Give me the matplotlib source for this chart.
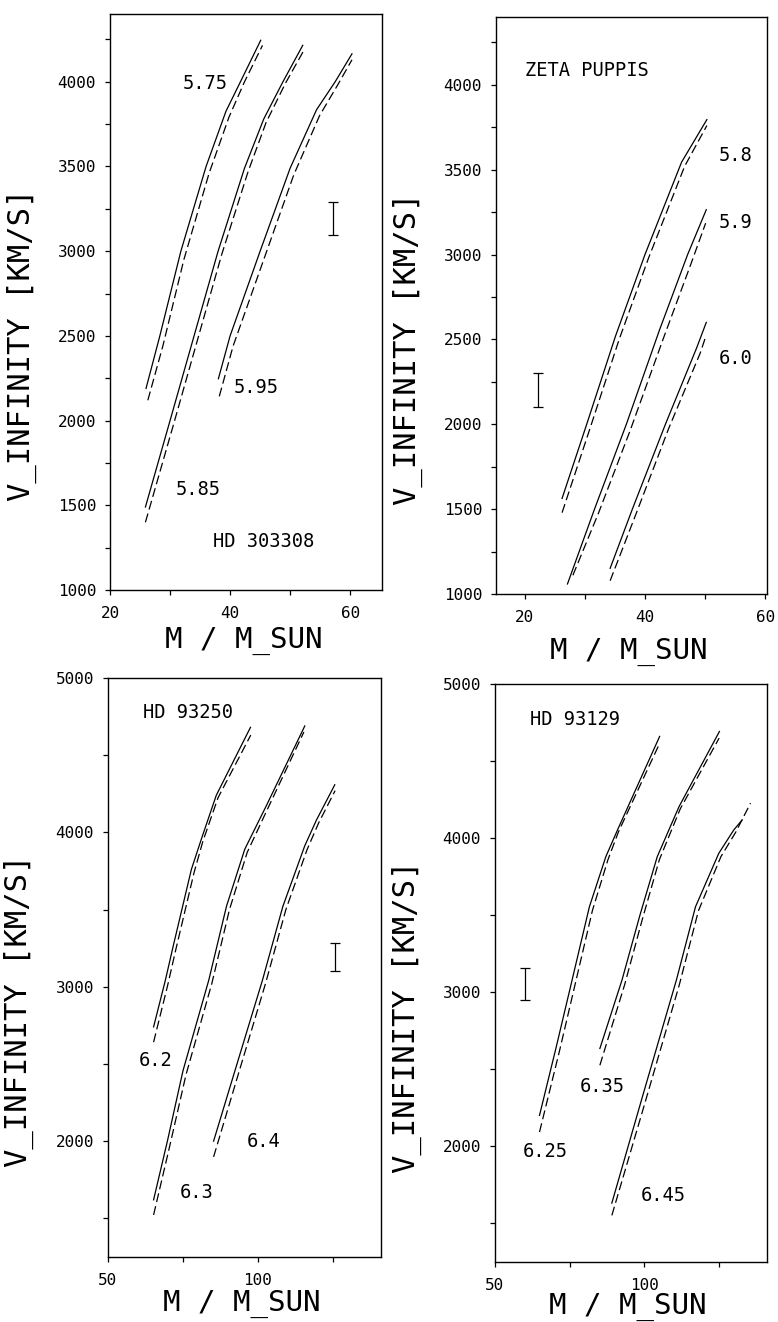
import matplotlib
matplotlib.use("Agg")
import matplotlib.pyplot as plt

plt.rcParams['font.family'] = ['DejaVu Sans Mono', 'DejaVu Sans']
plt.rcParams['lines.scale_dashes'] = False

# ---------------- Panel 1 : HD 303308 ----------------
p1_575_solid_m = [26.0, 28.3, 31.8, 36.0, 39.3, 42.0, 45.1]
p1_575_solid_v = [2190, 2500, 3000, 3500, 3825, 4020, 4245]
p1_575_dash_m = [26.3, 28.8, 32.3, 36.5, 39.8, 42.4, 45.4]
p1_575_dash_v = [2120, 2440, 2950, 3460, 3790, 4000, 4215]

p1_585_solid_m = [25.9, 30.0, 34.0, 38.0, 42.4, 45.6, 48.8, 52.1]
p1_585_solid_v = [1490, 2000, 2500, 3000, 3490, 3780, 4000, 4215]
p1_585_dash_m = [25.9, 30.6, 34.6, 38.6, 43.0, 46.0, 49.2, 52.2]
p1_585_dash_v = [1400, 1980, 2480, 2980, 3470, 3760, 3990, 4180]

p1_595_solid_m = [38.05, 40.0, 45.0, 50.0, 54.4, 57.5, 60.3]
p1_595_solid_v = [2247, 2500, 3000, 3490, 3835, 4000, 4165]
p1_595_dash_m = [38.2, 40.5, 45.6, 50.6, 54.9, 57.9, 60.3]
p1_595_dash_v = [2143, 2440, 2950, 3450, 3800, 3980, 4130]

p1_labels = ["5.75", "5.85", "5.95"]
p1_label_m = [35.8, 34.7, 44.4]
p1_label_v = [3988, 1593, 2194]
p1_name = "HD 303308"
p1_name_pos = (37.2, 1285)
p1_err_m, p1_err_lo, p1_err_hi = 57.1, 3095, 3293

# ---------------- Panel 2 : ZETA PUPPIS ----------------
p2_58_solid_m = [26.2, 30.3, 35.1, 40.0, 46.1, 50.3]
p2_58_solid_v = [1563, 2000, 2520, 3000, 3545, 3795]
p2_58_dash_m = [26.2, 30.8, 35.7, 40.6, 46.6, 50.3]
p2_58_dash_v = [1479, 1970, 2500, 2980, 3520, 3760]

p2_59_solid_m = [27.1, 31.6, 36.9, 42.4, 47.1, 50.2]
p2_59_solid_v = [1059, 1500, 2000, 2554, 3000, 3264]
p2_59_dash_m = [28.0, 32.3, 37.5, 43.0, 47.6, 50.1]
p2_59_dash_v = [1110, 1480, 1960, 2500, 2940, 3185]

p2_60_solid_m = [34.2, 37.9, 43.4, 48.6, 50.2]
p2_60_solid_v = [1151, 1500, 2000, 2450, 2600]
p2_60_dash_m = [34.2, 38.6, 44.0, 49.2, 50.0]
p2_60_dash_v = [1078, 1480, 1980, 2420, 2505]

p2_labels = ["5.8", "5.9", "6.0"]
p2_label_m = [55.1, 55.1, 55.1]
p2_label_v = [3584, 3191, 2387]
p2_name = "ZETA PUPPIS"
p2_name_pos = (20.0, 4084)
p2_err_m, p2_err_lo, p2_err_hi = 22.2, 2099, 2302

# ---------------- Panel 3 : HD 93250 ----------------
p3_62_solid_m = [65.2, 69.1, 71.7, 77.8, 81.1, 86.1, 97.5]
p3_62_solid_v = [2740, 3040, 3260, 3760, 3955, 4240, 4680]
p3_62_dash_m = [65.2, 69.9, 72.6, 78.7, 81.6, 86.7, 97.6]
p3_62_dash_v = [2641, 3010, 3240, 3740, 3940, 4225, 4630]

p3_63_solid_m = [65.2, 69.8, 75.0, 83.6, 89.5, 95.6, 102.8, 115.6]
p3_63_solid_v = [1620, 2000, 2456, 3043, 3521, 3891, 4173, 4689]
p3_63_dash_m = [65.2, 70.6, 76.0, 84.6, 90.5, 96.4, 103.4, 115.3]
p3_63_dash_v = [1522, 1970, 2430, 3020, 3500, 3870, 4160, 4650]

p3_64_solid_m = [85.2, 93.0, 101.5, 108.3, 115.6, 119.5, 125.6]
p3_64_solid_v = [2000, 2500, 3043, 3521, 3913, 4080, 4308]
p3_64_dash_m = [85.2, 94.0, 102.5, 109.3, 116.4, 120.2, 125.7]
p3_64_dash_v = [1898, 2470, 3020, 3500, 3890, 4060, 4270]

p3_labels = ["6.2", "6.3", "6.4"]
p3_label_m = [65.8, 79.5, 101.9]
p3_label_v = [2521, 1667, 2000]
p3_name = "HD 93250"
p3_name_pos = (61.7, 4776)
p3_err_m, p3_err_lo, p3_err_hi = 125.6, 3100, 3285

# ---------------- Panel 4 : HD 93129 ----------------
p4_625_solid_m = [64.9, 70.5, 75.8, 81.6, 87.1, 91.0, 105.1]
p4_625_solid_v = [2201, 2645, 3079, 3555, 3880, 4053, 4660]
p4_625_dash_m = [64.9, 71.6, 76.8, 82.6, 87.8, 91.3, 105.1]
p4_625_dash_v = [2093, 2620, 3050, 3530, 3860, 4040, 4615]

p4_635_solid_m = [85.1, 92.5, 98.5, 104.3, 111.6, 125.1]
p4_635_solid_v = [2635, 3079, 3500, 3880, 4205, 4692]
p4_635_dash_m = [85.1, 93.4, 99.4, 105.0, 112.0, 125.0]
p4_635_dash_v = [2526, 3050, 3480, 3860, 4190, 4649]

p4_645_solid_m = [89.1, 99.3, 110.7, 117.1, 124.9, 129.9, 132.7]
p4_645_solid_v = [1632, 2320, 3079, 3555, 3902, 4053, 4118]
p4_645_dash_m = [89.1, 100.3, 111.7, 118.1, 125.6, 130.6, 135.5]
p4_645_dash_v = [1552, 2290, 3050, 3530, 3880, 4040, 4227]

p4_labels = ["6.25", "6.35", "6.45"]
p4_label_m = [66.9, 86.0, 106.2]
p4_label_v = [1969, 2390, 1682]
p4_name = "HD 93129"
p4_name_pos = (61.6, 4768)
p4_err_m, p4_err_lo, p4_err_hi = 59.9, 2953, 3155

x_title = "M / M_SUN"
y_title = "V_INFINITY [KM/S]"

# ---------------- layout ----------------
panels = [
    dict(rect=[0.1414, 0.5537, 0.3496, 0.4357], xlim=(20, 65.3), ylim=(1000, 4400),
         xmaj=[20, 40, 60], xmin=[30, 50],
         ymaj=[1000, 1500, 2000, 2500, 3000, 3500, 4000],
         ymin=[1250, 1750, 2250, 2750, 3250, 3750, 4250],
         curves=[(p1_575_solid_m, p1_575_solid_v, p1_575_dash_m, p1_575_dash_v),
                 (p1_585_solid_m, p1_585_solid_v, p1_585_dash_m, p1_585_dash_v),
                 (p1_595_solid_m, p1_595_solid_v, p1_595_dash_m, p1_595_dash_v)],
         labels=(p1_labels, p1_label_m, p1_label_v), name=(p1_name, p1_name_pos),
         err=(p1_err_m, p1_err_lo, p1_err_hi), xlab_y=-0.100),
    dict(rect=[0.6375, 0.5507, 0.3483, 0.4365], xlim=(15.2, 60.3), ylim=(1000, 4400),
         xmaj=[20, 40, 60], xmin=[30, 50],
         ymaj=[1000, 1500, 2000, 2500, 3000, 3500, 4000],
         ymin=[1250, 1750, 2250, 2750, 3250, 3750, 4250],
         curves=[(p2_58_solid_m, p2_58_solid_v, p2_58_dash_m, p2_58_dash_v),
                 (p2_59_solid_m, p2_59_solid_v, p2_59_dash_m, p2_59_dash_v),
                 (p2_60_solid_m, p2_60_solid_v, p2_60_dash_m, p2_60_dash_v)],
         labels=(p2_labels, p2_label_m, p2_label_v), name=(p2_name, p2_name_pos),
         err=(p2_err_m, p2_err_lo, p2_err_hi), xlab_y=-0.112),
    dict(rect=[0.1388, 0.0492, 0.3509, 0.4380], xlim=(50, 141), ylim=(1250, 5000),
         xmaj=[50, 100], xmin=[75, 125],
         ymaj=[2000, 3000, 4000, 5000], ymin=[1500, 2500, 3500, 4500],
         curves=[(p3_62_solid_m, p3_62_solid_v, p3_62_dash_m, p3_62_dash_v),
                 (p3_63_solid_m, p3_63_solid_v, p3_63_dash_m, p3_63_dash_v),
                 (p3_64_solid_m, p3_64_solid_v, p3_64_dash_m, p3_64_dash_v)],
         labels=(p3_labels, p3_label_m, p3_label_v), name=(p3_name, p3_name_pos),
         err=(p3_err_m, p3_err_lo, p3_err_hi), xlab_y=-0.093),
    dict(rect=[0.6362, 0.0454, 0.3496, 0.4372], xlim=(50, 141), ylim=(1250, 5000),
         xmaj=[50, 100], xmin=[75, 125],
         ymaj=[2000, 3000, 4000, 5000], ymin=[1500, 2500, 3500, 4500],
         curves=[(p4_625_solid_m, p4_625_solid_v, p4_625_dash_m, p4_625_dash_v),
                 (p4_635_solid_m, p4_635_solid_v, p4_635_dash_m, p4_635_dash_v),
                 (p4_645_solid_m, p4_645_solid_v, p4_645_dash_m, p4_645_dash_v)],
         labels=(p4_labels, p4_label_m, p4_label_v), name=(p4_name, p4_name_pos),
         err=(p4_err_m, p4_err_lo, p4_err_hi), xlab_y=-0.089),
]

fig = plt.figure(figsize=(7.78, 13.22), dpi=100)
fig.patch.set_facecolor('white')

for p in panels:
    ax = fig.add_axes(p['rect'])
    for sm, sv, dm, dv in p['curves']:
        ax.plot(sm, sv, color='black', lw=0.9, solid_joinstyle='round')
        ax.plot(dm, dv, color='black', lw=0.9, linestyle=(0, (6.5, 3.0)))
    texts, lm, lv = p['labels']
    for t, m, v in zip(texts, lm, lv):
        ax.text(m, v, t, ha='center', va='center', fontsize=13.5)
    name, (nm, nv) = p['name']
    ax.text(nm, nv, name, ha='left', va='center', fontsize=13.5)
    em, elo, ehi = p['err']
    ax.errorbar([em], [(elo + ehi) / 2], yerr=[(ehi - elo) / 2], fmt='none',
                ecolor='black', elinewidth=0.9, capsize=3.6, capthick=0.9)
    ax.set_xlim(*p['xlim'])
    ax.set_ylim(*p['ylim'])
    ax.set_xticks(p['xmaj'])
    ax.set_xticks(p['xmin'], minor=True)
    ax.set_yticks(p['ymaj'])
    ax.set_yticks(p['ymin'], minor=True)
    ax.tick_params(which='both', direction='out', length=3.5, width=0.9,
                   top=False, right=False, labelsize=11.5)
    ax.tick_params(axis='x', which='major', pad=8)
    ax.tick_params(axis='y', which='major', pad=6.5)
    for s in ax.spines.values():
        s.set_linewidth(1.0)
    ax.set_xlabel(x_title, fontsize=21, va='baseline')
    ax.set_ylabel(y_title, fontsize=22)
    ax.xaxis.set_label_coords(0.49, p['xlab_y'])
    ax.yaxis.set_label_coords(-0.27, 0.425)

fig.savefig('out.png', dpi=100)
